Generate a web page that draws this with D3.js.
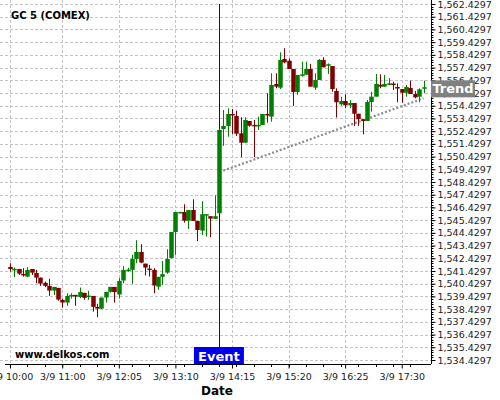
<!DOCTYPE html>
<html>
<head>
<meta charset="utf-8">
<script src="https://cdnjs.cloudflare.com/ajax/libs/d3/7.8.5/d3.min.js"></script>
<style>
  body { margin: 0; background: #fff; }
  text { font-family: "DejaVu Sans", sans-serif; }
  .grid line { stroke: #c4c4c4; stroke-dasharray: 3,2; }
</style>
</head>
<body>
<script>
// 5 minute candles, 3/9 10:00 .. 17:55
var opens = [1541.75,1541.55,1541.59,1541.20,1540.99,1541.59,1541.27,1540.91,1540.50,1540.26,
  1539.89,1540.10,1539.16,1538.95,1539.50,1539.55,1539.38,1539.71,1539.44,1539.47,
  1538.61,1538.47,1539.34,1539.79,1540.18,1539.58,1540.68,1541.42,1541.52,1542.38,
  1542.93,1542.01,1541.62,1541.52,1540.20,1540.97,1541.30,1542.46,1544.50,1546.05,
  1546.07,1545.39,1546.23,1545.37,1544.61,1545.82,1545.74,1545.53,1545.97,1552.60,
  1552.84,1553.78,1553.62,1552.26,1551.52,1553.23,1552.92,1552.84,1552.92,1553.78,
  1553.57,1556.14,1555.85,1558.10,1557.97,1557.32,1555.51,1556.79,1556.87,1557.32,
  1555.85,1556.45,1558.03,1557.63,1557.55,1555.59,1554.54,1554.80,1554.46,1554.64,
  1553.80,1553.37,1553.23,1554.72,1555.14,1556.08,1555.93,1556.14,1556.17,1555.90,
  1555.74,1555.45,1555.82,1555.35,1555.14,1555.77];
var highs = [1542.04,1541.70,1541.59,1541.65,1541.73,1541.59,1541.52,1540.91,1540.60,1540.81,
  1540.18,1540.10,1539.26,1539.68,1539.68,1539.55,1540.13,1539.71,1539.87,1539.47,
  1538.84,1539.34,1539.79,1540.18,1540.18,1540.87,1541.81,1541.68,1542.70,1543.85,
  1543.54,1542.01,1541.91,1541.65,1540.97,1542.22,1543.14,1544.50,1546.07,1546.10,
  1546.68,1546.23,1547.07,1545.37,1546.92,1545.90,1545.74,1547.39,1552.60,1554.09,
  1554.23,1554.17,1554.04,1553.52,1553.52,1553.23,1553.31,1553.57,1553.78,1555.41,
  1556.98,1556.98,1558.63,1558.95,1558.16,1557.32,1556.85,1557.89,1557.89,1557.71,
  1556.98,1558.10,1558.24,1557.76,1557.55,1555.80,1555.14,1555.33,1554.88,1554.64,
  1553.80,1553.37,1554.88,1555.53,1556.93,1556.90,1556.85,1556.59,1556.32,1556.19,
  1555.74,1556.06,1556.40,1555.59,1555.80,1556.40];
var lows = [1541.38,1540.95,1541.12,1540.99,1540.94,1541.12,1540.47,1540.26,1540.16,1539.47,
  1539.53,1539.10,1538.55,1538.69,1539.26,1538.69,1539.29,1539.16,1539.16,1538.24,
  1537.80,1538.43,1538.95,1539.74,1538.95,1539.26,1540.47,1541.36,1540.42,1542.04,
  1542.04,1541.07,1540.99,1539.68,1539.95,1540.34,1541.20,1542.41,1542.70,1546.02,
  1545.23,1544.74,1545.37,1543.77,1544.27,1544.14,1544.09,1545.53,1545.97,1551.27,
  1551.99,1552.18,1552.05,1550.38,1551.52,1552.78,1550.38,1552.52,1552.92,1553.10,
  1553.17,1555.80,1555.74,1557.76,1557.32,1554.41,1555.28,1556.71,1556.87,1555.93,
  1555.67,1556.45,1557.45,1556.93,1555.53,1553.49,1554.43,1554.23,1554.23,1552.84,
  1552.84,1552.18,1553.23,1553.96,1555.14,1555.80,1555.93,1556.06,1555.67,1554.70,
  1554.67,1555.14,1555.35,1555.01,1554.70,1555.41];
var closes = [1541.59,1541.60,1541.22,1541.15,1541.52,1541.30,1540.91,1540.44,1540.26,1539.89,
  1540.18,1539.18,1538.95,1539.47,1539.55,1539.42,1539.77,1539.32,1539.50,1538.61,
  1538.47,1539.34,1539.79,1540.18,1539.77,1540.65,1541.52,1541.54,1542.38,1542.93,
  1542.09,1541.70,1541.55,1540.29,1540.97,1541.18,1542.38,1544.50,1546.07,1546.07,
  1545.39,1546.23,1545.37,1544.66,1545.90,1545.90,1545.55,1545.74,1552.52,1552.84,
  1553.78,1553.68,1552.23,1551.52,1553.31,1552.86,1552.84,1552.92,1553.78,1553.68,
  1556.06,1555.93,1558.03,1557.84,1557.32,1555.51,1556.85,1556.90,1557.32,1555.93,
  1556.45,1558.03,1557.45,1557.69,1555.74,1554.70,1554.80,1554.46,1554.64,1553.80,
  1553.37,1553.23,1554.72,1555.14,1556.14,1555.93,1556.14,1556.19,1556.12,1555.85,
  1555.45,1555.90,1555.35,1555.09,1555.72,1555.88];

var tickIndex = [0, 12, 25, 38, 51, 64, 77, 90];
var tickLabels = ["3/9 10:00", "3/9 11:00", "3/9 12:05", "3/9 13:10", "3/9 14:15", "3/9 15:20", "3/9 16:25", "3/9 17:30"];
var priceTicks = d3.range(0, 29).map(function(k) { return 1534.4297 + k; });

var eventIndex = 48;
var trendIndex = [49, 95];
var trendPrice = [1549.32, 1555.01];

var width = 500, height = 400;
var plotRight = 431, plotBottom = 364;

var x = d3.scaleLinear().domain([0, 95]).range([10, 423.5]);
var y = d3.scaleLinear().domain([1534.4297, 1562.4297]).range([360, 4]);

var svg = d3.select("body").append("svg")
  .attr("width", width)
  .attr("height", height);

// grid
var grid = svg.append("g").attr("class", "grid");
grid.selectAll(".h").data(priceTicks).enter().append("line")
  .attr("x1", 0).attr("x2", plotRight)
  .attr("y1", function(d) { return Math.round(y(d)) + 0.5; })
  .attr("y2", function(d) { return Math.round(y(d)) + 0.5; });
grid.selectAll(".v").data(tickIndex).enter().append("line")
  .attr("y1", 0).attr("y2", plotBottom)
  .attr("x1", function(d) { return Math.round(x(d)) + 0.5; })
  .attr("x2", function(d) { return Math.round(x(d)) + 0.5; });

// event line
svg.append("line")
  .attr("x1", Math.round(x(eventIndex)) + 0.5).attr("x2", Math.round(x(eventIndex)) + 0.5)
  .attr("y1", 4).attr("y2", plotBottom)
  .attr("stroke", "#0000e0").attr("stroke-width", 1);

// trend
svg.append("line")
  .attr("x1", x(trendIndex[0])).attr("y1", y(trendPrice[0]))
  .attr("x2", x(trendIndex[1])).attr("y2", y(trendPrice[1]))
  .attr("stroke", "#8c8c8c").attr("stroke-width", 2.2)
  .attr("stroke-dasharray", "2,2");

// candles
var candles = svg.append("g").selectAll("g").data(d3.range(opens.length)).enter().append("g");
candles.append("line")
  .attr("x1", function(i) { return Math.round(x(i)) + 0.5; })
  .attr("x2", function(i) { return Math.round(x(i)) + 0.5; })
  .attr("y1", function(i) { return y(highs[i]); })
  .attr("y2", function(i) { return y(lows[i]); })
  .attr("stroke", function(i) { return closes[i] >= opens[i] ? "#008000" : "#800000"; });
candles.append("rect")
  .attr("x", function(i) { return Math.round(x(i)) - 1.75; })
  .attr("width", 4.5)
  .attr("y", function(i) { return y(Math.max(opens[i], closes[i])); })
  .attr("height", function(i) { return Math.max(1.5, Math.abs(y(opens[i]) - y(closes[i]))); })
  .attr("fill", function(i) { return closes[i] >= opens[i] ? "#008000" : "#800000"; });

// y axis on the right
var yAxis = d3.axisRight(y).tickValues(priceTicks).tickSize(4).tickPadding(2)
  .tickFormat(d3.format(",.4f"));
var ya = svg.append("g").attr("transform", "translate(" + (plotRight + 0.5) + ",0)").call(yAxis);
ya.select(".domain").attr("d", "M0,0V" + plotBottom);
ya.selectAll("text").style("font-size", "9.5px").attr("fill", "#222");
svg.append("g").selectAll("line")
  .data(d3.range(0, 141).map(function(k) { return 1534.4297 + k * 0.2; }))
  .enter().append("line")
  .attr("x1", plotRight).attr("x2", plotRight + 2.5)
  .attr("y1", function(d) { return Math.round(y(d)) + 0.5; })
  .attr("y2", function(d) { return Math.round(y(d)) + 0.5; })
  .attr("stroke", "#000");

// x axis
var xAxis = d3.axisBottom(x).tickValues(tickIndex).tickSize(4).tickPadding(5)
  .tickFormat(function(d, i) { return tickLabels[i]; });
var xa = svg.append("g").attr("transform", "translate(0," + (plotBottom + 0.5) + ")").call(xAxis);
xa.select(".domain").attr("d", "M5,0H" + plotRight);
xa.selectAll("text").style("font-size", "9.5px").attr("fill", "#222");
svg.append("g").selectAll("line")
  .data(d3.range(0, 96, 4))
  .enter().append("line")
  .attr("x1", function(d) { return Math.round(x(d)) + 0.5; })
  .attr("x2", function(d) { return Math.round(x(d)) + 0.5; })
  .attr("y1", plotBottom).attr("y2", plotBottom + 3)
  .attr("stroke", "#000");

svg.append("text")
  .attr("x", 217).attr("y", 395)
  .attr("text-anchor", "middle")
  .style("font-size", "12px").style("font-weight", "bold")
  .text("Date");

// labels
svg.append("text").attr("x", 11).attr("y", 19)
  .style("font-size", "10px").style("font-weight", "bold")
  .text("GC 5 (COMEX)");
svg.append("text").attr("x", 15).attr("y", 358)
  .style("font-size", "10px").style("font-weight", "bold")
  .text("www.delkos.com");

var ex = x(eventIndex);
svg.append("rect").attr("x", ex - 25).attr("y", 347).attr("width", 50).attr("height", 17)
  .attr("fill", "#0000ee");
svg.append("text").attr("x", ex).attr("y", 361).attr("text-anchor", "middle")
  .attr("fill", "#fff").style("font-size", "13px").style("font-weight", "bold")
  .text("Event");

var ty = y(trendPrice[1]) - 10;
svg.append("rect").attr("x", 431).attr("y", ty - 8).attr("width", 44).attr("height", 17)
  .attr("fill", "#808080");
svg.append("text").attr("x", 453).attr("y", ty + 5).attr("text-anchor", "middle")
  .attr("fill", "#fff").style("font-size", "13px").style("font-weight", "bold")
  .text("Trend");
</script>
</body>
</html>
